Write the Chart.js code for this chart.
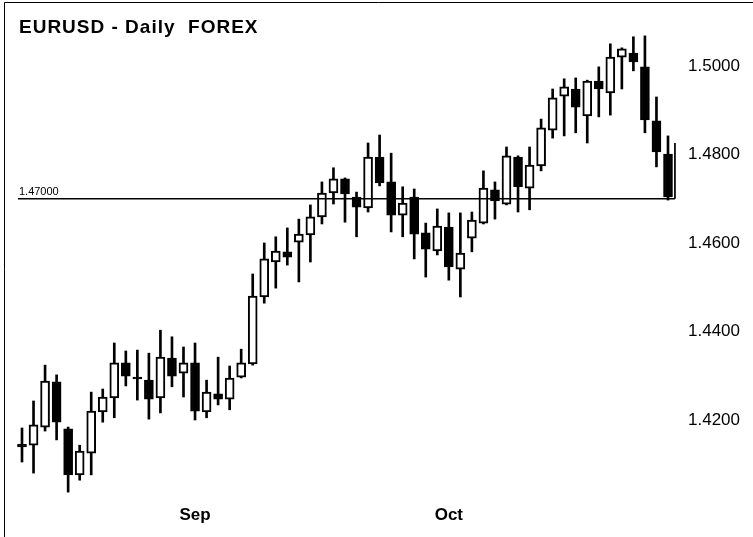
<!DOCTYPE html>
<html>
<head>
  <title>EURUSD - Daily FOREX</title>
  <script src="https://cdn.jsdelivr.net/npm/chart.js"></script>
  <style>
    body { margin: 0; background: #fff; }
    #wrap { width: 753px; height: 537px; position: relative; }
  </style>
</head>
<body>
  <div id="wrap"><canvas id="fx"></canvas></div>

  <script>
    // daily candles, Aug 11 - Oct 28 2009
    const dates = [
      "2009-08-11", "2009-08-12", "2009-08-13", "2009-08-14", "2009-08-17", "2009-08-18", "2009-08-19",
      "2009-08-20", "2009-08-21", "2009-08-24", "2009-08-25", "2009-08-26", "2009-08-27", "2009-08-28",
      "2009-08-31", "2009-09-01", "2009-09-02", "2009-09-03", "2009-09-04", "2009-09-07", "2009-09-08",
      "2009-09-09", "2009-09-10", "2009-09-11", "2009-09-14", "2009-09-15", "2009-09-16", "2009-09-17",
      "2009-09-18", "2009-09-21", "2009-09-22", "2009-09-23", "2009-09-24", "2009-09-25", "2009-09-28",
      "2009-09-29", "2009-09-30", "2009-10-01", "2009-10-02", "2009-10-05", "2009-10-06", "2009-10-07",
      "2009-10-08", "2009-10-09", "2009-10-12", "2009-10-13", "2009-10-14", "2009-10-15", "2009-10-16",
      "2009-10-19", "2009-10-20", "2009-10-21", "2009-10-22", "2009-10-23", "2009-10-26", "2009-10-27",
      "2009-10-28"
    ];
    const opens = [
      1.4145, 1.4143, 1.4184, 1.4286, 1.4180, 1.4076, 1.4125, 1.4218, 1.4250, 1.4329,
      1.4297, 1.4290, 1.4250, 1.4340, 1.4306, 1.4329, 1.4218, 1.4259, 1.4247, 1.4297,
      1.4327, 1.4478, 1.4557, 1.4580, 1.4602, 1.4618, 1.4659, 1.4713, 1.4745, 1.4704,
      1.4679, 1.4794, 1.4738, 1.4663, 1.4704, 1.4623, 1.4582, 1.4636, 1.4541, 1.4611,
      1.4645, 1.4720, 1.4688, 1.4794, 1.4724, 1.4774, 1.4855, 1.4932, 1.4948, 1.4887,
      1.4966, 1.4939, 1.5020, 1.5029, 1.4998, 1.4876, 1.4801
    ];
    const highs = [
      1.4182, 1.4243, 1.4324, 1.4302, 1.4184, 1.4143, 1.4263, 1.4270, 1.4374, 1.4356,
      1.4358, 1.4351, 1.4403, 1.4388, 1.4365, 1.4374, 1.4290, 1.4342, 1.4322, 1.4360,
      1.4530, 1.4600, 1.4614, 1.4634, 1.4654, 1.4686, 1.4738, 1.4770, 1.4747, 1.4715,
      1.4826, 1.4844, 1.4803, 1.4727, 1.4722, 1.4645, 1.4677, 1.4668, 1.4668, 1.4670,
      1.4763, 1.4738, 1.4817, 1.4797, 1.4817, 1.4880, 1.4948, 1.4971, 1.4973, 1.4968,
      1.4998, 1.5050, 1.5041, 1.5066, 1.5068, 1.4930, 1.4842
    ];
    const lows = [
      1.4105, 1.4080, 1.4175, 1.4155, 1.4037, 1.4064, 1.4076, 1.4195, 1.4205, 1.4277,
      1.4245, 1.4202, 1.4216, 1.4275, 1.4252, 1.4200, 1.4205, 1.4234, 1.4223, 1.4295,
      1.4324, 1.4464, 1.4498, 1.4550, 1.4512, 1.4557, 1.4643, 1.4688, 1.4647, 1.4614,
      1.4670, 1.4729, 1.4625, 1.4614, 1.4564, 1.4523, 1.4573, 1.4516, 1.4478, 1.4580,
      1.4643, 1.4654, 1.4686, 1.4670, 1.4675, 1.4763, 1.4837, 1.4842, 1.4849, 1.4826,
      1.4885, 1.4889, 1.4948, 1.4989, 1.4849, 1.4772, 1.4697
    ];
    const closes = [
      1.4139, 1.4189, 1.4288, 1.4195, 1.4076, 1.4130, 1.4220, 1.4252, 1.4329, 1.4299,
      1.4293, 1.4247, 1.4342, 1.4299, 1.4329, 1.4220, 1.4263, 1.4247, 1.4295, 1.4329,
      1.4480, 1.4564, 1.4582, 1.4568, 1.4620, 1.4659, 1.4713, 1.4745, 1.4711, 1.4681,
      1.4794, 1.4736, 1.4663, 1.4690, 1.4620, 1.4586, 1.4638, 1.4546, 1.4577, 1.4652,
      1.4724, 1.4695, 1.4797, 1.4727, 1.4776, 1.4860, 1.4928, 1.4953, 1.4907, 1.4966,
      1.4948, 1.5020, 1.5039, 1.5009, 1.4878, 1.4806, 1.4704
    ];
    const yTickValues = [1.42, 1.44, 1.46, 1.48, 1.50];
    const monthTickDates = ["2009-09-01", "2009-10-01"];
    const monthTickLabels = ["Sep", "Oct"];
    const title = "EURUSD - Daily  FOREX";

    // horizontal level line + the small marker at its right end
    const refLevel = 1.47;
    const refFrom = -0.35;
    const refTo = 56.6;
    const markerTop = 1.4826;

    // axis ranges (bar index on x)
    const xMin = -1.56, xMax = 57.04;
    const yMin = 1.40192, yMax = 1.51446;

    const idx = dates.map((d, i) => i);
    const up = idx.map(i => closes[i] >= opens[i]);

    const overlay = {
      id: "overlay",
      afterDraw(chart) {
        const { ctx, chartArea, scales } = chart;
        ctx.save();
        ctx.strokeStyle = "#000";
        ctx.lineWidth = 1;
        ctx.beginPath();
        ctx.moveTo(chartArea.left + 0.5, chart.height);
        ctx.lineTo(chartArea.left + 0.5, chartArea.top + 0.5);
        ctx.lineTo(chart.width, chartArea.top + 0.5);
        ctx.stroke();

        ctx.fillStyle = "#000";
        ctx.textBaseline = "alphabetic";
        ctx.font = 'bold 19px "Liberation Sans", Arial, sans-serif';
        ctx.letterSpacing = "1px";
        ctx.fillText(title, chartArea.left + 15, 33);

        ctx.letterSpacing = "0px";
        ctx.font = '11px "Liberation Sans", Arial, sans-serif';
        ctx.fillText(refLevel.toFixed(5), scales.x.getPixelForValue(refFrom) + 1,
          scales.y.getPixelForValue(refLevel) - 4);
        ctx.restore();
      }
    };

    // keep tick labels from pushing the plot area inwards
    function noEdgePadding(s) {
      s.paddingTop = 0;
      s.paddingBottom = 0;
      s.paddingLeft = 0;
      s.paddingRight = 0;
    }

    new Chart(document.getElementById("fx"), {
      type: "bar",
      data: {
        datasets: [
          {
            type: "line",
            data: [{ x: refFrom, y: refLevel }, { x: refTo, y: refLevel }],
            borderColor: "#000",
            borderWidth: 1.5,
            pointRadius: 0,
            order: 0
          },
          {
            type: "line",
            data: [{ x: refTo, y: markerTop }, { x: refTo, y: refLevel }],
            borderColor: "#000",
            borderWidth: 1,
            pointRadius: 0,
            order: 0
          },
          {
            data: idx.map(i => ({ x: i, y: [opens[i], closes[i]] })),
            backgroundColor: up.map(u => u ? "#fff" : "#000"),
            borderColor: "#000",
            borderWidth: 2,
            borderSkipped: false,
            barThickness: 9,
            grouped: false,
            order: 1
          },
          {
            data: idx.map(i => ({ x: i, y: [lows[i], highs[i]] })),
            backgroundColor: "#000",
            borderWidth: 0,
            barThickness: 2,
            grouped: false,
            order: 2
          }
        ]
      },
      options: {
        responsive: true,
        maintainAspectRatio: false,
        animation: false,
        devicePixelRatio: 1,
        layout: { padding: { left: 4, top: 2, right: 0, bottom: 0 } },
        plugins: {
          legend: { display: false },
          tooltip: { enabled: false }
        },
        scales: {
          x: {
            type: "linear",
            position: "bottom",
            min: xMin,
            max: xMax,
            offset: false,
            grid: { display: false, drawTicks: false },
            border: { display: false },
            afterFit: s => { s.height = 37; noEdgePadding(s); },
            afterBuildTicks: s => {
              s.ticks = monthTickDates.map(d => ({ value: dates.indexOf(d) }));
            },
            ticks: {
              autoSkip: false,
              maxRotation: 0,
              padding: 5,
              color: "#000",
              font: { family: '"Liberation Sans", Arial, sans-serif', size: 17, weight: "bold" },
              callback: (v, i) => monthTickLabels[i]
            }
          },
          y: {
            position: "right",
            min: yMin,
            max: yMax,
            grid: { display: false, drawTicks: false },
            border: { display: false },
            afterFit: s => { s.width = 73; noEdgePadding(s); },
            afterBuildTicks: s => {
              s.ticks = yTickValues.map(v => ({ value: v }));
            },
            ticks: {
              padding: 8,
              color: "#000",
              font: { family: '"Liberation Sans", Arial, sans-serif', size: 17 },
              callback: v => v.toFixed(4)
            }
          }
        }
      },
      plugins: [overlay]
    });
  </script>
</body>
</html>
